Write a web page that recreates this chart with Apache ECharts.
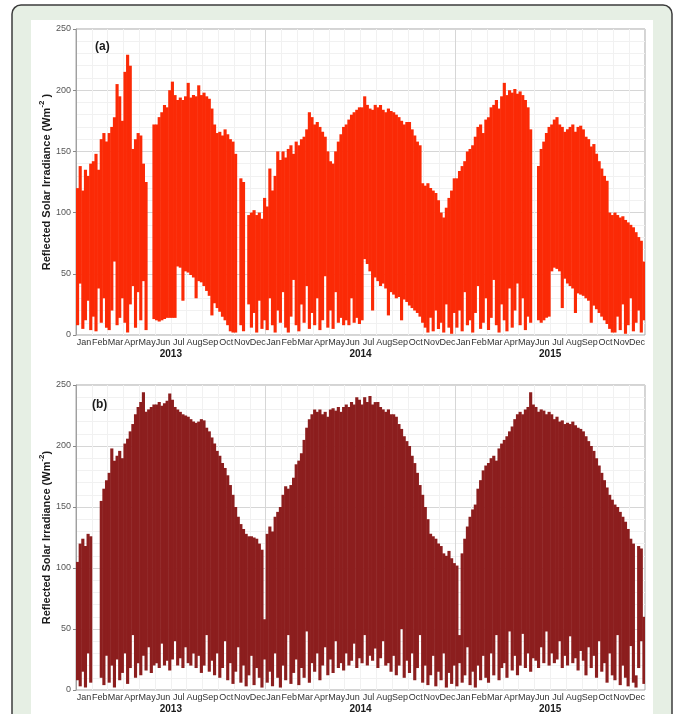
<!DOCTYPE html>
<html>
<head>
<meta charset="utf-8">
<script src="https://cdn.jsdelivr.net/npm/echarts@6/dist/echarts.min.js"></script>
<style>
  html, body { margin: 0; padding: 0; background: #ffffff; }
  #chart { width: 675px; height: 714px; }
</style>
</head>
<body>
<div id="chart"></div>
<script>
// Month and year labels along the time axis
const monthNames = ['Jan','Feb','Mar','Apr','May','Jun','Jul','Aug','Sep','Oct','Nov','Dec'];
const yearLabels = ['2013', '2014', '2015'];
const yTicks = [0, 50, 100, 150, 200, 250];

// Each month is split into 6 periods; every value is the high / low of a period (W m-2).
// null = no record for that period.

// (a) reflected solar irradiance, upper and lower envelope
const aHigh2013 = [
  120,138,118,135,130,140,  142,148,135,160,165,158,  165,170,178,205,195,175,
  215,229,220,152,160,165,  163,140,125,null,null,172, 172,178,182,188,186,200,
  207,196,192,194,192,195,  206,194,196,195,204,196,  198,195,193,185,172,165,
  166,163,168,164,160,158,  148,null,128,125,null,98,  100,102,98,100,95,112
];
const aLow2013 = [
  8,42,5,12,28,4,   15,3,38,10,30,6,   4,20,60,8,14,30,
  10,2,25,40,6,35,  12,44,4,null,null,13,  12,11,12,13,14,14,
  14,14,56,55,28,52,  51,49,47,30,44,43,  40,36,32,16,26,22,
  19,15,12,8,3,2,   2,null,8,3,null,25,  6,18,2,28,5,12
];
const aHigh2014 = [
  105,136,118,130,150,143,  150,145,152,155,148,158,  155,160,162,168,182,178,
  172,174,170,166,162,150,  142,140,150,158,164,170,  172,176,180,182,184,186,
  186,195,188,185,184,188,  186,188,184,182,185,183,  182,180,178,175,172,174,
  174,168,163,158,155,124,  122,124,120,118,116,110,  100,96,104,112,118,128
];
const aLow2014 = [
  4,30,8,2,20,10,   35,6,2,15,45,8,   3,25,10,40,5,18,
  8,30,4,12,48,6,   20,5,35,10,14,8,  12,8,30,10,14,9,
  12,62,58,52,20,47,  44,40,42,38,16,35,  33,30,31,12,29,27,
  24,22,20,18,15,10,  6,2,14,3,20,5,  10,2,25,6,1,18
];
const aHigh2015 = [
  128,134,138,142,150,152,  155,162,170,172,165,176,  178,186,188,192,185,195,
  206,196,200,198,201,197,  199,196,192,186,168,null, null,138,152,158,165,170,
  172,176,178,172,170,166,  168,170,172,166,170,171,  168,162,160,154,156,148,
  142,136,130,126,100,98,   100,98,96,97,94,92,   90,88,84,80,77,60
];
const aLow2015 = [
  6,20,3,35,8,12,   2,18,40,5,10,30,   4,14,45,8,2,25,
  12,3,38,6,20,42,  8,30,4,15,10,null,  null,12,10,12,14,15,
  52,55,54,52,22,46,  42,40,38,18,34,33,  32,30,28,10,24,21,
  18,15,12,9,5,2,   2,15,4,25,1,8,   30,3,10,20,2,12
];

// (b) reflected solar irradiance, upper and lower envelope
const bHigh2013 = [
  105,120,124,118,128,126,  null,null,null,155,165,172,  178,198,188,192,196,190,
  202,206,212,218,226,232,  236,244,228,230,232,234,  234,236,233,235,237,243,
  238,232,230,228,226,225,  224,222,220,219,220,222,  221,215,212,207,202,196,
  192,186,182,176,168,160,  150,142,136,132,128,126,  126,125,124,120,115,58
];
const bLow2013 = [
  8,3,15,2,30,6,   null,null,null,10,4,28,   6,20,2,25,8,14,
  30,5,18,45,10,22,  12,28,16,35,14,20,  22,18,38,20,24,16,
  25,40,20,26,18,35,  22,20,30,18,28,14,  20,45,15,24,12,30,
  10,18,40,8,22,5,  15,35,6,20,3,12,  28,4,18,10,2,25
];
const bHigh2014 = [
  128,134,130,142,146,150,  160,167,165,168,174,185,  188,194,205,215,222,226,
  230,228,230,226,228,224,  230,231,229,232,228,232,  234,232,236,234,240,238,
  234,240,236,241,234,236,  236,232,230,228,230,226,  226,224,218,214,208,204,
  200,192,186,178,168,160,  150,140,128,126,124,120,  118,112,110,114,108,104
];
const bLow2014 = [
  6,15,3,30,10,2,   20,8,45,5,14,25,   4,18,10,48,6,22,
  15,30,8,20,35,12,  25,14,40,18,22,16,  30,20,24,38,18,26,
  22,45,20,28,24,34,  18,26,40,20,22,15,  28,12,20,50,10,24,
  14,30,8,18,45,6,  20,4,12,28,3,15,  8,30,2,14,5,20
];
const bHigh2015 = [
  102,45,112,124,134,142,  148,152,165,172,180,184,  186,190,192,188,198,202,
  205,208,212,216,222,226,  228,226,230,232,244,234,  232,228,230,229,226,228,
  226,222,224,220,221,218,  219,218,220,217,215,214,  212,208,204,200,196,190,
  184,178,172,166,160,156,  152,150,146,142,138,132,  124,120,12,118,116,60
];
const bLow2015 = [
  3,22,6,12,35,4,   15,2,20,8,28,10,   6,30,12,45,8,18,
  22,10,48,16,28,12,  20,46,18,30,15,26,  24,18,35,22,48,20,
  30,22,25,40,18,28,  20,44,22,26,16,32,  24,12,35,18,28,10,
  40,15,22,6,30,12,  8,45,4,20,10,3,  36,6,2,18,40,5
];

const PERIODS_PER_MONTH = 6;
const monthLabels = [].concat(monthNames, monthNames, monthNames);
const periodCount = monthLabels.length * PERIODS_PER_MONTH;

// Join the yearly arrays and turn them into [period, low, high] records
function ranges(highs, lows) {
  const out = [];
  for (let i = 0; i < highs.length; i++) {
    if (highs[i] == null || lows[i] == null) continue;
    out.push([i, lows[i], highs[i]]);
  }
  return out;
}
const panelA = ranges([].concat(aHigh2013, aHigh2014, aHigh2015), [].concat(aLow2013, aLow2014, aLow2015));
const panelB = ranges([].concat(bHigh2013, bHigh2014, bHigh2015), [].concat(bLow2013, bLow2014, bLow2015));

// One filled column per period, from its low to its high value
function renderRange(params, api) {
  const i = api.value(0);
  const top = api.coord([i, api.value(2)]);
  const bottom = api.coord([i + 1, api.value(1)]);
  return {
    type: 'rect',
    shape: { x: top[0], y: top[1], width: bottom[0] - top[0] + 0.5, height: bottom[1] - top[1] },
    style: { fill: api.visual('color') }
  };
}

const FONT = 'Arial, "Liberation Sans", sans-serif';
const grids = [
  { left: 76, top: 29, width: 569, height: 306 },
  { left: 76, top: 385, width: 569, height: 306 }
];

function titleRich(sup, tail) {
  return {
    name: '{t|Reflected Solar Irradiance (Wm}{s|' + sup + '}{t|' + tail + ')}',
    nameTextStyle: {
      rich: {
        t: { fontFamily: FONT, fontSize: 11, fontWeight: 'bold', color: '#1a1a1a', lineHeight: 14, verticalAlign: 'bottom' },
        s: { fontFamily: FONT, fontSize: 8, fontWeight: 'bold', color: '#1a1a1a', lineHeight: 14, verticalAlign: 'top', padding: [0, 0, 6, 0] }
      }
    }
  };
}

const xAxes = [];
const yAxes = [];
grids.forEach(function (g, gi) {
  xAxes.push({
    type: 'value', gridIndex: gi, min: 0, max: periodCount, interval: 72,
    axisLine: { show: false }, axisTick: { show: false }, axisLabel: { show: false },
    splitLine: { show: true, lineStyle: { color: '#d6d6d6', width: 1 } },
    minorTick: { show: false, splitNumber: 12 },
    minorSplitLine: { show: true, lineStyle: { color: '#f1f1f1', width: 1 } }
  });
  xAxes.push({
    type: 'category', gridIndex: gi, position: 'bottom', data: monthLabels, boundaryGap: true,
    axisLine: { show: false }, axisTick: { show: false },
    axisLabel: { interval: 0, margin: 3, fontFamily: FONT, fontSize: 9, color: '#333' },
    splitLine: { show: false }
  });
  xAxes.push({
    type: 'category', gridIndex: gi, position: 'bottom', offset: 11, data: yearLabels, boundaryGap: true,
    axisLine: { show: false }, axisTick: { show: false },
    axisLabel: { interval: 0, margin: 3, fontFamily: FONT, fontSize: 10, fontWeight: 'bold', color: '#1a1a1a' },
    splitLine: { show: false }
  });
  const title = gi === 0 ? titleRich('-2', ' ') : titleRich('-2', '');
  yAxes.push(Object.assign({
    type: 'value', gridIndex: gi, min: yTicks[0], max: yTicks[yTicks.length - 1], interval: 50,
    nameLocation: 'middle', nameGap: 24, nameRotate: 90, nameMoveOverlap: false,
    axisLine: { show: true, lineStyle: { color: '#a0a0a0' } },
    axisTick: { show: true, length: 3, lineStyle: { color: '#888' } },
    axisLabel: { margin: 5, fontFamily: FONT, fontSize: 9, color: '#555' },
    splitLine: { show: true, lineStyle: { color: '#d6d6d6', width: 1 } },
    minorTick: { show: false, splitNumber: 5 },
    minorSplitLine: { show: true, lineStyle: { color: '#f1f1f1', width: 1 } }
  }, title));
});

const chart = echarts.init(document.getElementById('chart'), null, { renderer: 'canvas' });
chart.setOption({
  animation: false,
  backgroundColor: 'transparent',
  graphic: [
    { type: 'rect', z: -10, silent: true, shape: { x: 12, y: 5, width: 660, height: 730, r: 9 },
      style: { fill: '#e6efe4', stroke: '#3c3c3c', lineWidth: 1.5 } },
    { type: 'rect', z: -9, silent: true, shape: { x: 31, y: 20, width: 622, height: 720 },
      style: { fill: '#ffffff' } },
    { type: 'text', left: 95, top: 41, z: 10, style: { text: '(a)', font: 'bold 12px ' + FONT, fill: '#1a1a1a' } },
    { type: 'text', left: 92, top: 399, z: 10, style: { text: '(b)', font: 'bold 12px ' + FONT, fill: '#1a1a1a' } }
  ],
  grid: grids.map(function (g) {
    return Object.assign({ show: true, borderColor: '#a8a8a8', borderWidth: 1, backgroundColor: 'transparent' }, g);
  }),
  xAxis: xAxes,
  yAxis: yAxes,
  series: [
    { type: 'custom', name: '(a)', xAxisIndex: 0, yAxisIndex: 0, renderItem: renderRange,
      encode: { x: 0, y: [1, 2] }, data: panelA, itemStyle: { color: '#fb2a06' }, clip: true },
    { type: 'custom', name: '(b)', xAxisIndex: 3, yAxisIndex: 1, renderItem: renderRange,
      encode: { x: 0, y: [1, 2] }, data: panelB, itemStyle: { color: '#8c1e1e' }, clip: true }
  ]
});
</script>
</body>
</html>
